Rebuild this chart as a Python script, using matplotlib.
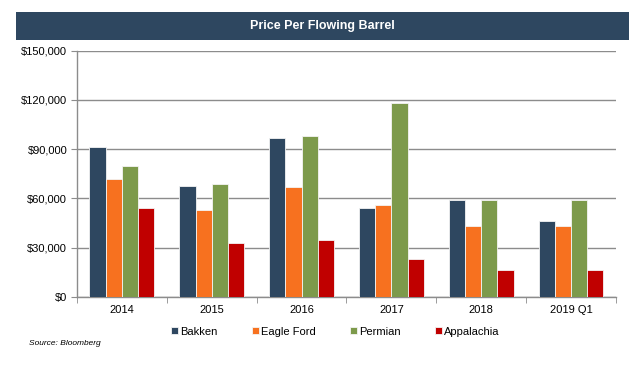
import numpy as np
import matplotlib.pyplot as plt
from matplotlib.patches import Rectangle
from matplotlib.ticker import FuncFormatter, MultipleLocator

plt.rcParams['font.family'] = ['Liberation Sans', 'DejaVu Sans']

# data
years = ['2014', '2015', '2016', '2017', '2018', '2019 Q1']
bakken = [91500, 67500, 96500, 54000, 59000, 46000]
eagle_ford = [72000, 53000, 67000, 56000, 43000, 43000]
permian = [80000, 69000, 98000, 118000, 59000, 59000]
appalachia = [54000, 33000, 34500, 23000, 16500, 16500]

series = [('Bakken', bakken, '#2E4760'),
          ('Eagle Ford', eagle_ford, '#F7711F'),
          ('Permian', permian, '#7D9A4B'),
          ('Appalachia', appalachia, '#C00000')]

fig = plt.figure(figsize=(6.41, 3.75), dpi=100)
ax = fig.add_axes([0.120, 0.208, 0.841, 0.657])

# title banner
fig.patches.append(Rectangle((0.025, 0.893), 0.956, 0.075, transform=fig.transFigure,
                             facecolor='#2E4760', edgecolor='none', zorder=0))
fig.text(0.503, 0.931, 'Price Per Flowing Barrel', color='white', fontsize=9,
         fontweight='bold', ha='center', va='center')

x = np.arange(len(years))
w = 0.18
for i, (name, vals, col) in enumerate(series):
    ax.bar(x + (i - 1.5) * w, vals, w, color=col, edgecolor='#F4F4F4',
           linewidth=0.6, label=name, zorder=3)

ax.set_xlim(-0.5, len(years) - 0.5)
ax.set_ylim(0, 150000)
ax.yaxis.set_major_locator(MultipleLocator(30000))
ax.yaxis.set_major_formatter(FuncFormatter(lambda v, p: '${:,.0f}'.format(v)))
ax.grid(axis='y', color='#8C8C8C', linewidth=1.0, zorder=0)

ax.set_xticks(x)
ax.set_xticklabels(years)
ax.set_xticks(np.arange(-0.5, len(years)), minor=True)
ax.tick_params(axis='x', which='major', length=0, pad=6, labelsize=8)
ax.tick_params(axis='x', which='minor', length=4, color='#8C8C8C', direction='out')
ax.tick_params(axis='y', length=4, color='#8C8C8C', labelsize=8, pad=3)

for s in ['top', 'right']:
    ax.spines[s].set_visible(False)
for s in ['left', 'bottom']:
    ax.spines[s].set_color('#8C8C8C')
    ax.spines[s].set_linewidth(1.0)

fig.legend(loc='center', bbox_to_anchor=(0.523, 0.115), ncol=4, frameon=False,
           fontsize=8, handlelength=0.6, handleheight=0.6, handletextpad=0.2,
           columnspacing=3.1)

fig.text(0.045, 0.083, 'Source: Bloomberg', fontsize=6, style='italic', va='center')

fig.savefig('out.png', dpi=100)
